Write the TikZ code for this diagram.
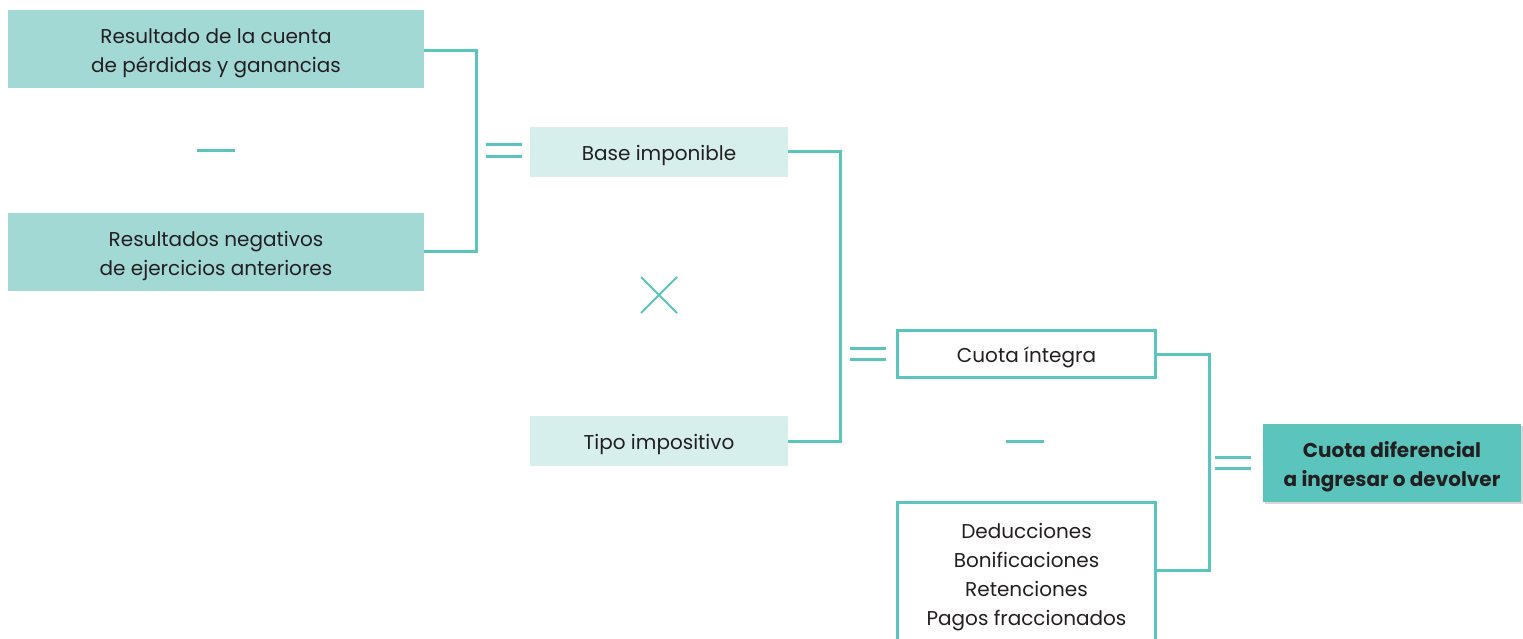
\documentclass[tikz,border=0pt]{standalone}
\usepackage{fontspec}
\setmainfont{Poppins}
\usetikzlibrary{shadows}
\definecolor{teal}{HTML}{5BC4BC}
\definecolor{lightteal}{HTML}{A2D9D5}
\definecolor{paleteal}{HTML}{D6EEEC}
\definecolor{ink}{HTML}{231F20}
\tikzset{
  lbl/.style={font=\fontsize{20}{29}\selectfont, text=ink, align=center, inner sep=0pt},
  boldlbl/.style={lbl, font=\fontsize{20}{29}\selectfont\bfseries},
  bigbox/.style={fill=lightteal, minimum width=416pt, minimum height=78pt, inner sep=0pt},
  midbox/.style={fill=paleteal, minimum width=258pt, minimum height=50pt, inner sep=0pt},
  outbox/.style={draw=teal, line width=3pt, fill=white, minimum width=258pt, minimum height=47pt, inner sep=0pt},
  resbox/.style={fill=teal, minimum width=258pt, minimum height=78pt, inner sep=0pt,
     drop shadow={opacity=0.3, shadow xshift=1.5pt, shadow yshift=-2pt}},
  conn/.style={draw=teal, line width=3pt},
  op/.style={draw=teal, line width=3pt},
}
\begin{document}
\begin{tikzpicture}[x=1pt,y=-1pt]
\useasboundingbox (0,0) rectangle (1523,639);
\clip (0,0) rectangle (1523,639);
\fill[white] (0,0) rectangle (1523,639);
% left column
\node[bigbox] (r1) at (216,49) {};
\node[lbl] (r1t) at ([yshift=-4pt]r1.center) {Resultado de la cuenta\\de pérdidas y ganancias};
\node[bigbox] (r2) at (216,252) {};
\node[lbl] (r2t) at ([yshift=-4pt]r2.center) {Resultados negativos\\de ejercicios anteriores};
\draw[op] (197,151) -- (235,151);
\draw[conn] ([yshift=-2pt]r1.east) -- ++(52,0) |- ([yshift=1pt]r2.east);
\draw[op] (486,145) -- (522,145) (486,157) -- (522,157);
% middle column
\node[midbox] (bi) at (659,152) {};
\node[lbl] (bit) at ([yshift=-3pt]bi.center) {Base imponible};
\node[midbox] (ti) at (659,441) {};
\node[lbl] (tit) at ([yshift=-3pt]ti.center) {Tipo impositivo};
\draw[draw=teal, line width=2pt] (641,277) -- (677,313) (641,313) -- (677,277);
\draw[conn] (bi.east) -- ++(52,0) |- (ti.east);
\draw[op] (850,348) -- (886,348) (850,359) -- (886,359);
% right column
\node[outbox] (ci) at (1026.5,354) {};
\node[lbl] (cit) at ([yshift=-3pt]ci.center) {Cuota íntegra};
\node[outbox, minimum height=150pt] (dd) at (1026.5,577) {};
\node[lbl, anchor=north] (ddt) at (1026.5,523) {Deducciones\\Bonificaciones\\Retenciones\\Pagos fraccionados};
\draw[op] (1006,441) -- (1044,441);
\draw[conn] (ci.east) -- ++(52,0) |- ([yshift=7pt]dd.east);
\draw[op] (1215,457) -- (1251,457) (1215,468) -- (1251,468);
\node[resbox] (cd) at (1392,463) {};
\node[boldlbl] (cdt) at ([yshift=-4pt]cd.center) {Cuota diferencial\\a ingresar o devolver};
\end{tikzpicture}
\end{document}
